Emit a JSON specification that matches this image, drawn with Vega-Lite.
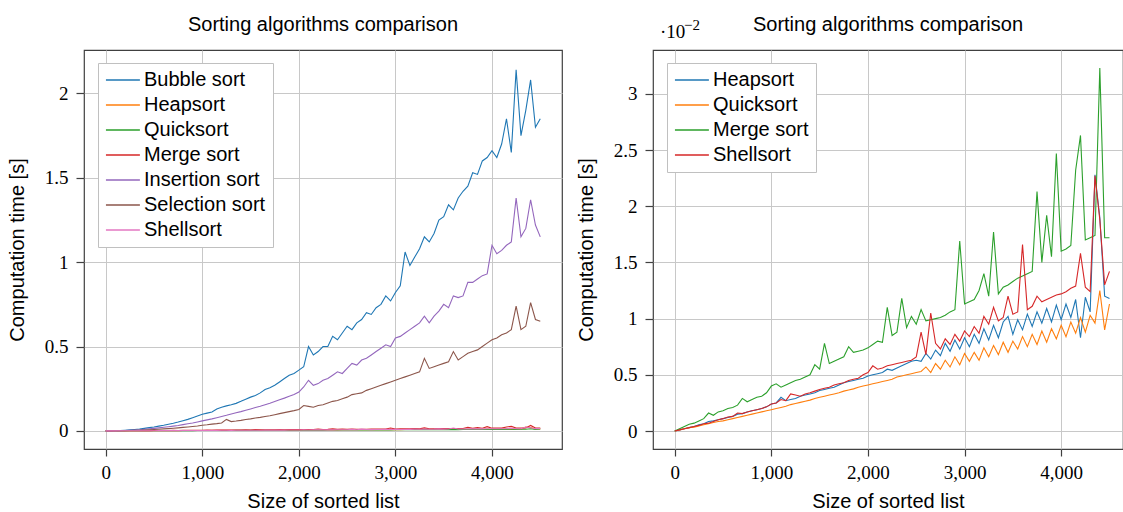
{
"$schema": "https://vega.github.io/schema/vega-lite/v6.json",
"padding": {"left": 6, "top": 14, "right": 0, "bottom": 0},
"bounds": "flush",
"spacing": 91,
"datasets": {"t": [
{"n":0,"Bubble sort":0,"Heapsort":0,"Quicksort":0,"Merge sort":0,"Insertion sort":0,"Selection sort":0,"Shellsort":0},
{"n":50,"Bubble sort":0.0002,"Heapsort":0.0001,"Quicksort":0.0001,"Merge sort":0.0002,"Insertion sort":0.0001,"Selection sort":0.0001,"Shellsort":0.0001},
{"n":100,"Bubble sort":0.0009,"Heapsort":0.0002,"Quicksort":0.0002,"Merge sort":0.0004,"Insertion sort":0.0006,"Selection sort":0.0003,"Shellsort":0.0002},
{"n":150,"Bubble sort":0.002,"Heapsort":0.0003,"Quicksort":0.0003,"Merge sort":0.0006,"Insertion sort":0.0013,"Selection sort":0.0007,"Shellsort":0.0003},
{"n":200,"Bubble sort":0.0036,"Heapsort":0.0004,"Quicksort":0.00035,"Merge sort":0.0007,"Insertion sort":0.0023,"Selection sort":0.0013,"Shellsort":0.0004},
{"n":250,"Bubble sort":0.0057,"Heapsort":0.00055,"Quicksort":0.00045,"Merge sort":0.0009,"Insertion sort":0.0036,"Selection sort":0.002,"Shellsort":0.0005},
{"n":300,"Bubble sort":0.0083,"Heapsort":0.00065,"Quicksort":0.00055,"Merge sort":0.0011,"Insertion sort":0.0052,"Selection sort":0.0029,"Shellsort":0.00065},
{"n":350,"Bubble sort":0.011,"Heapsort":0.00085,"Quicksort":0.00065,"Merge sort":0.0016,"Insertion sort":0.007,"Selection sort":0.0039,"Shellsort":0.0007},
{"n":400,"Bubble sort":0.015,"Heapsort":0.0009,"Quicksort":0.00075,"Merge sort":0.0014,"Insertion sort":0.0093,"Selection sort":0.0051,"Shellsort":0.00085},
{"n":450,"Bubble sort":0.019,"Heapsort":0.001,"Quicksort":0.00085,"Merge sort":0.0017,"Insertion sort":0.012,"Selection sort":0.0065,"Shellsort":0.001},
{"n":500,"Bubble sort":0.023,"Heapsort":0.0011,"Quicksort":0.0009,"Merge sort":0.0018,"Insertion sort":0.0145,"Selection sort":0.008,"Shellsort":0.0011},
{"n":550,"Bubble sort":0.028,"Heapsort":0.0012,"Quicksort":0.001,"Merge sort":0.002,"Insertion sort":0.0175,"Selection sort":0.0097,"Shellsort":0.00125},
{"n":600,"Bubble sort":0.033,"Heapsort":0.0013,"Quicksort":0.0011,"Merge sort":0.0021,"Insertion sort":0.021,"Selection sort":0.0115,"Shellsort":0.0013},
{"n":650,"Bubble sort":0.039,"Heapsort":0.0015,"Quicksort":0.0012,"Merge sort":0.0023,"Insertion sort":0.0245,"Selection sort":0.0135,"Shellsort":0.0016},
{"n":700,"Bubble sort":0.045,"Heapsort":0.00155,"Quicksort":0.0013,"Merge sort":0.0029,"Insertion sort":0.028,"Selection sort":0.0157,"Shellsort":0.00155},
{"n":750,"Bubble sort":0.052,"Heapsort":0.0017,"Quicksort":0.0014,"Merge sort":0.0026,"Insertion sort":0.032,"Selection sort":0.018,"Shellsort":0.0017},
{"n":800,"Bubble sort":0.06,"Heapsort":0.0018,"Quicksort":0.0015,"Merge sort":0.0028,"Insertion sort":0.037,"Selection sort":0.0205,"Shellsort":0.0018},
{"n":850,"Bubble sort":0.068,"Heapsort":0.0019,"Quicksort":0.0016,"Merge sort":0.003,"Insertion sort":0.042,"Selection sort":0.023,"Shellsort":0.0019},
{"n":900,"Bubble sort":0.078,"Heapsort":0.002,"Quicksort":0.0017,"Merge sort":0.0031,"Insertion sort":0.047,"Selection sort":0.026,"Shellsort":0.002},
{"n":950,"Bubble sort":0.088,"Heapsort":0.00215,"Quicksort":0.0018,"Merge sort":0.0034,"Insertion sort":0.053,"Selection sort":0.029,"Shellsort":0.00215},
{"n":1000,"Bubble sort":0.098,"Heapsort":0.0024,"Quicksort":0.0019,"Merge sort":0.004,"Insertion sort":0.059,"Selection sort":0.033,"Shellsort":0.0024},
{"n":1050,"Bubble sort":0.105,"Heapsort":0.0025,"Quicksort":0.002,"Merge sort":0.0042,"Insertion sort":0.065,"Selection sort":0.036,"Shellsort":0.0025},
{"n":1100,"Bubble sort":0.112,"Heapsort":0.003,"Quicksort":0.0021,"Merge sort":0.0039,"Insertion sort":0.071,"Selection sort":0.04,"Shellsort":0.0028},
{"n":1150,"Bubble sort":0.13,"Heapsort":0.0027,"Quicksort":0.0022,"Merge sort":0.0041,"Insertion sort":0.078,"Selection sort":0.043,"Shellsort":0.0027},
{"n":1200,"Bubble sort":0.14,"Heapsort":0.0028,"Quicksort":0.00235,"Merge sort":0.0043,"Insertion sort":0.085,"Selection sort":0.047,"Shellsort":0.0033},
{"n":1250,"Bubble sort":0.148,"Heapsort":0.0029,"Quicksort":0.00245,"Merge sort":0.0045,"Insertion sort":0.092,"Selection sort":0.068,"Shellsort":0.0032},
{"n":1300,"Bubble sort":0.155,"Heapsort":0.0031,"Quicksort":0.00255,"Merge sort":0.0046,"Insertion sort":0.1,"Selection sort":0.055,"Shellsort":0.0031},
{"n":1350,"Bubble sort":0.163,"Heapsort":0.0032,"Quicksort":0.00265,"Merge sort":0.0048,"Insertion sort":0.107,"Selection sort":0.058,"Shellsort":0.0033},
{"n":1400,"Bubble sort":0.175,"Heapsort":0.0033,"Quicksort":0.00275,"Merge sort":0.005,"Insertion sort":0.114,"Selection sort":0.062,"Shellsort":0.0034},
{"n":1450,"Bubble sort":0.188,"Heapsort":0.0034,"Quicksort":0.0029,"Merge sort":0.0059,"Insertion sort":0.122,"Selection sort":0.067,"Shellsort":0.00355},
{"n":1500,"Bubble sort":0.2,"Heapsort":0.0036,"Quicksort":0.003,"Merge sort":0.0055,"Insertion sort":0.13,"Selection sort":0.071,"Shellsort":0.0037},
{"n":1550,"Bubble sort":0.21,"Heapsort":0.0037,"Quicksort":0.0031,"Merge sort":0.0078,"Insertion sort":0.138,"Selection sort":0.076,"Shellsort":0.0038},
{"n":1600,"Bubble sort":0.225,"Heapsort":0.0038,"Quicksort":0.0032,"Merge sort":0.006,"Insertion sort":0.146,"Selection sort":0.08,"Shellsort":0.0039},
{"n":1650,"Bubble sort":0.245,"Heapsort":0.0039,"Quicksort":0.0033,"Merge sort":0.0062,"Insertion sort":0.155,"Selection sort":0.085,"Shellsort":0.0041},
{"n":1700,"Bubble sort":0.255,"Heapsort":0.0041,"Quicksort":0.0034,"Merge sort":0.0064,"Insertion sort":0.164,"Selection sort":0.09,"Shellsort":0.0042},
{"n":1750,"Bubble sort":0.27,"Heapsort":0.0043,"Quicksort":0.00355,"Merge sort":0.0066,"Insertion sort":0.174,"Selection sort":0.096,"Shellsort":0.0043},
{"n":1800,"Bubble sort":0.29,"Heapsort":0.0044,"Quicksort":0.00365,"Merge sort":0.0075,"Insertion sort":0.184,"Selection sort":0.102,"Shellsort":0.0045},
{"n":1850,"Bubble sort":0.31,"Heapsort":0.0045,"Quicksort":0.00375,"Merge sort":0.007,"Insertion sort":0.194,"Selection sort":0.108,"Shellsort":0.0046},
{"n":1900,"Bubble sort":0.33,"Heapsort":0.0046,"Quicksort":0.0039,"Merge sort":0.0071,"Insertion sort":0.205,"Selection sort":0.114,"Shellsort":0.0047},
{"n":1950,"Bubble sort":0.34,"Heapsort":0.0047,"Quicksort":0.004,"Merge sort":0.0072,"Insertion sort":0.216,"Selection sort":0.12,"Shellsort":0.005},
{"n":2000,"Bubble sort":0.36,"Heapsort":0.0049,"Quicksort":0.0041,"Merge sort":0.0074,"Insertion sort":0.23,"Selection sort":0.127,"Shellsort":0.0052},
{"n":2050,"Bubble sort":0.38,"Heapsort":0.005,"Quicksort":0.0042,"Merge sort":0.0077,"Insertion sort":0.26,"Selection sort":0.15,"Shellsort":0.0058},
{"n":2100,"Bubble sort":0.5,"Heapsort":0.0051,"Quicksort":0.0043,"Merge sort":0.008,"Insertion sort":0.3,"Selection sort":0.145,"Shellsort":0.0055},
{"n":2150,"Bubble sort":0.45,"Heapsort":0.0052,"Quicksort":0.0044,"Merge sort":0.0079,"Insertion sort":0.27,"Selection sort":0.14,"Shellsort":0.0056},
{"n":2200,"Bubble sort":0.47,"Heapsort":0.0055,"Quicksort":0.0045,"Merge sort":0.011,"Insertion sort":0.28,"Selection sort":0.15,"Shellsort":0.0058},
{"n":2250,"Bubble sort":0.5,"Heapsort":0.0054,"Quicksort":0.0046,"Merge sort":0.0085,"Insertion sort":0.3,"Selection sort":0.155,"Shellsort":0.0059},
{"n":2300,"Bubble sort":0.5,"Heapsort":0.0056,"Quicksort":0.0048,"Merge sort":0.0088,"Insertion sort":0.31,"Selection sort":0.165,"Shellsort":0.006},
{"n":2350,"Bubble sort":0.56,"Heapsort":0.0058,"Quicksort":0.0049,"Merge sort":0.0118,"Insertion sort":0.33,"Selection sort":0.175,"Shellsort":0.0061},
{"n":2400,"Bubble sort":0.54,"Heapsort":0.006,"Quicksort":0.005,"Merge sort":0.0092,"Insertion sort":0.35,"Selection sort":0.18,"Shellsort":0.0062},
{"n":2450,"Bubble sort":0.58,"Heapsort":0.0062,"Quicksort":0.0051,"Merge sort":0.0102,"Insertion sort":0.34,"Selection sort":0.19,"Shellsort":0.0063},
{"n":2500,"Bubble sort":0.62,"Heapsort":0.0063,"Quicksort":0.0052,"Merge sort":0.0095,"Insertion sort":0.37,"Selection sort":0.2,"Shellsort":0.0066},
{"n":2550,"Bubble sort":0.6,"Heapsort":0.0062,"Quicksort":0.0053,"Merge sort":0.0108,"Insertion sort":0.4,"Selection sort":0.215,"Shellsort":0.0088},
{"n":2600,"Bubble sort":0.64,"Heapsort":0.0069,"Quicksort":0.0057,"Merge sort":0.0098,"Insertion sort":0.39,"Selection sort":0.22,"Shellsort":0.0068},
{"n":2650,"Bubble sort":0.66,"Heapsort":0.0064,"Quicksort":0.0052,"Merge sort":0.0099,"Insertion sort":0.42,"Selection sort":0.225,"Shellsort":0.0105},
{"n":2700,"Bubble sort":0.7,"Heapsort":0.0072,"Quicksort":0.006,"Merge sort":0.01,"Insertion sort":0.43,"Selection sort":0.24,"Shellsort":0.0078},
{"n":2750,"Bubble sort":0.69,"Heapsort":0.0067,"Quicksort":0.0055,"Merge sort":0.0101,"Insertion sort":0.45,"Selection sort":0.25,"Shellsort":0.0073},
{"n":2800,"Bubble sort":0.73,"Heapsort":0.0078,"Quicksort":0.0063,"Merge sort":0.0103,"Insertion sort":0.47,"Selection sort":0.26,"Shellsort":0.0082},
{"n":2850,"Bubble sort":0.75,"Heapsort":0.0071,"Quicksort":0.0057,"Merge sort":0.0106,"Insertion sort":0.49,"Selection sort":0.27,"Shellsort":0.0077},
{"n":2900,"Bubble sort":0.8,"Heapsort":0.0081,"Quicksort":0.0066,"Merge sort":0.0108,"Insertion sort":0.51,"Selection sort":0.28,"Shellsort":0.0086},
{"n":2950,"Bubble sort":0.77,"Heapsort":0.0073,"Quicksort":0.0059,"Merge sort":0.0169,"Insertion sort":0.5,"Selection sort":0.29,"Shellsort":0.008},
{"n":3000,"Bubble sort":0.82,"Heapsort":0.0083,"Quicksort":0.0069,"Merge sort":0.0113,"Insertion sort":0.55,"Selection sort":0.3,"Shellsort":0.0089},
{"n":3050,"Bubble sort":0.86,"Heapsort":0.0075,"Quicksort":0.0062,"Merge sort":0.0115,"Insertion sort":0.56,"Selection sort":0.31,"Shellsort":0.0084},
{"n":3100,"Bubble sort":1.06,"Heapsort":0.0086,"Quicksort":0.007,"Merge sort":0.0117,"Insertion sort":0.58,"Selection sort":0.32,"Shellsort":0.0093},
{"n":3150,"Bubble sort":0.98,"Heapsort":0.0078,"Quicksort":0.0063,"Merge sort":0.0125,"Insertion sort":0.6,"Selection sort":0.33,"Shellsort":0.0087},
{"n":3200,"Bubble sort":1.03,"Heapsort":0.0091,"Quicksort":0.0074,"Merge sort":0.014,"Insertion sort":0.62,"Selection sort":0.34,"Shellsort":0.0102},
{"n":3250,"Bubble sort":1.08,"Heapsort":0.0081,"Quicksort":0.0066,"Merge sort":0.012,"Insertion sort":0.64,"Selection sort":0.35,"Shellsort":0.0095},
{"n":3300,"Bubble sort":1.15,"Heapsort":0.0094,"Quicksort":0.0076,"Merge sort":0.0177,"Insertion sort":0.68,"Selection sort":0.43,"Shellsort":0.011},
{"n":3350,"Bubble sort":1.12,"Heapsort":0.0083,"Quicksort":0.0068,"Merge sort":0.0122,"Insertion sort":0.64,"Selection sort":0.37,"Shellsort":0.0098},
{"n":3400,"Bubble sort":1.17,"Heapsort":0.0097,"Quicksort":0.0079,"Merge sort":0.0128,"Insertion sort":0.68,"Selection sort":0.38,"Shellsort":0.0101},
{"n":3450,"Bubble sort":1.25,"Heapsort":0.0102,"Quicksort":0.007,"Merge sort":0.013,"Insertion sort":0.71,"Selection sort":0.39,"Shellsort":0.012},
{"n":3500,"Bubble sort":1.27,"Heapsort":0.0086,"Quicksort":0.008,"Merge sort":0.0133,"Insertion sort":0.75,"Selection sort":0.4,"Shellsort":0.0104},
{"n":3550,"Bubble sort":1.34,"Heapsort":0.0099,"Quicksort":0.0073,"Merge sort":0.0136,"Insertion sort":0.73,"Selection sort":0.41,"Shellsort":0.0106},
{"n":3600,"Bubble sort":1.31,"Heapsort":0.009,"Quicksort":0.0084,"Merge sort":0.0138,"Insertion sort":0.8,"Selection sort":0.47,"Shellsort":0.0166},
{"n":3650,"Bubble sort":1.38,"Heapsort":0.0104,"Quicksort":0.0075,"Merge sort":0.014,"Insertion sort":0.79,"Selection sort":0.42,"Shellsort":0.0108},
{"n":3700,"Bubble sort":1.42,"Heapsort":0.0093,"Quicksort":0.0086,"Merge sort":0.0142,"Insertion sort":0.8,"Selection sort":0.44,"Shellsort":0.0111},
{"n":3750,"Bubble sort":1.45,"Heapsort":0.0106,"Quicksort":0.0077,"Merge sort":0.0213,"Insertion sort":0.88,"Selection sort":0.46,"Shellsort":0.012},
{"n":3800,"Bubble sort":1.53,"Heapsort":0.0096,"Quicksort":0.0089,"Merge sort":0.015,"Insertion sort":0.88,"Selection sort":0.47,"Shellsort":0.0115},
{"n":3850,"Bubble sort":1.52,"Heapsort":0.0109,"Quicksort":0.0079,"Merge sort":0.0192,"Insertion sort":0.9,"Selection sort":0.48,"Shellsort":0.0117},
{"n":3900,"Bubble sort":1.6,"Heapsort":0.0097,"Quicksort":0.0091,"Merge sort":0.0155,"Insertion sort":0.92,"Selection sort":0.5,"Shellsort":0.0119},
{"n":3950,"Bubble sort":1.62,"Heapsort":0.0112,"Quicksort":0.0082,"Merge sort":0.0247,"Insertion sort":0.93,"Selection sort":0.52,"Shellsort":0.0121},
{"n":4000,"Bubble sort":1.66,"Heapsort":0.0099,"Quicksort":0.0094,"Merge sort":0.016,"Insertion sort":1.1,"Selection sort":0.54,"Shellsort":0.0122},
{"n":4050,"Bubble sort":1.62,"Heapsort":0.0113,"Quicksort":0.0084,"Merge sort":0.0162,"Insertion sort":1.05,"Selection sort":0.55,"Shellsort":0.0124},
{"n":4100,"Bubble sort":1.7,"Heapsort":0.0101,"Quicksort":0.0097,"Merge sort":0.0165,"Insertion sort":1.07,"Selection sort":0.57,"Shellsort":0.0127},
{"n":4150,"Bubble sort":1.85,"Heapsort":0.0117,"Quicksort":0.0087,"Merge sort":0.0232,"Insertion sort":1.1,"Selection sort":0.58,"Shellsort":0.0129},
{"n":4200,"Bubble sort":1.65,"Heapsort":0.0083,"Quicksort":0.0101,"Merge sort":0.0263,"Insertion sort":1.12,"Selection sort":0.6,"Shellsort":0.0158},
{"n":4250,"Bubble sort":2.14,"Heapsort":0.0119,"Quicksort":0.0088,"Merge sort":0.017,"Insertion sort":1.38,"Selection sort":0.74,"Shellsort":0.0128},
{"n":4300,"Bubble sort":1.75,"Heapsort":0.0106,"Quicksort":0.0103,"Merge sort":0.0172,"Insertion sort":1.15,"Selection sort":0.6,"Shellsort":0.0124},
{"n":4350,"Bubble sort":1.9,"Heapsort":0.0228,"Quicksort":0.0096,"Merge sort":0.0174,"Insertion sort":1.2,"Selection sort":0.62,"Shellsort":0.0227},
{"n":4400,"Bubble sort":2.08,"Heapsort":0.019,"Quicksort":0.0125,"Merge sort":0.0323,"Insertion sort":1.37,"Selection sort":0.76,"Shellsort":0.0188},
{"n":4450,"Bubble sort":1.8,"Heapsort":0.012,"Quicksort":0.009,"Merge sort":0.0172,"Insertion sort":1.22,"Selection sort":0.66,"Shellsort":0.013},
{"n":4500,"Bubble sort":1.85,"Heapsort":0.0118,"Quicksort":0.0113,"Merge sort":0.0172,"Insertion sort":1.15,"Selection sort":0.65,"Shellsort":0.0142}
]},
"hconcat": [
{
"width": 478, "height": 399,
"title": {"text": "Sorting algorithms comparison", "offset": 15},
"data": {"name": "t"},
"transform": [{"fold": ["Bubble sort","Heapsort","Quicksort","Merge sort","Insertion sort","Selection sort","Shellsort"], "as": ["algo","time"]}],
"mark": {"type": "line", "strokeWidth": 1.1, "clip": true},
"encoding": {
"x": {"field": "n", "type": "quantitative", "scale": {"domain": [-225, 4725], "nice": false, "zero": false}, "axis": {"values": [0,1000,2000,3000,4000], "format": ",.0f", "title": "Size of sorted list"}},
"y": {"field": "time", "type": "quantitative", "scale": {"domain": [-0.1075, 2.2575], "nice": false, "zero": false}, "axis": {"values": [0,0.5,1,1.5,2], "format": ".1~f", "title": "Computation time [s]"}},
"color": {"field": "algo", "type": "nominal", "sort": null,
"scale": {"domain": ["Bubble sort","Heapsort","Quicksort","Merge sort","Insertion sort","Selection sort","Shellsort"], "range": ["#1f77b4","#ff7f0e","#2ca02c","#d62728","#9467bd","#8c564b","#e377c2"]},
"legend": {"title": null, "orient": "none", "legendX": 14, "legendY": 13}}
}
},
{
"width": 470, "height": 399,
"title": {"text": "Sorting algorithms comparison", "offset": -17},
"layer": [
{
"data": {"name": "t"},
"transform": [{"fold": ["Heapsort","Quicksort","Merge sort","Shellsort"], "as": ["algo","time"]}],
"mark": {"type": "line", "strokeWidth": 1.1, "clip": true},
"encoding": {
"x": {"field": "n", "type": "quantitative", "scale": {"domain": [-225, 4640], "nice": false, "zero": false}, "axis": {"values": [0,1000,2000,3000,4000], "format": ",.0f", "title": "Size of sorted list"}},
"y": {"field": "time", "type": "quantitative", "scale": {"domain": [-0.0016, 0.0339], "nice": false, "zero": false}, "axis": {"values": [0,0.005,0.01,0.015,0.02,0.025,0.03], "labelExpr": "format(datum.value*100, '.2~g')", "title": "Computation time [s]"}},
"color": {"field": "algo", "type": "nominal", "sort": null,
"scale": {"domain": ["Heapsort","Quicksort","Merge sort","Shellsort"], "range": ["#1f77b4","#ff7f0e","#2ca02c","#d62728"]},
"legend": {"title": null, "orient": "none", "legendX": 14, "legendY": 13}}
}
},
{
"data": {"values": [{"s": "·10"}]},
"mark": {"type": "text", "font": "Liberation Serif", "fontSize": 19, "align": "left", "baseline": "alphabetic", "dx": 7, "dy": -12, "color": "#000"},
"encoding": {"x": {"datum": -225}, "y": {"datum": 0.0339}, "text": {"field": "s"}}
},
{
"data": {"values": [{"s": "−2"}]},
"mark": {"type": "text", "font": "Liberation Serif", "fontSize": 15, "align": "left", "baseline": "alphabetic", "dx": 31, "dy": -20, "color": "#000"},
"encoding": {"x": {"datum": -225}, "y": {"datum": 0.0339}, "text": {"field": "s"}}
}
]
}
],
"resolve": {"scale": {"x": "independent", "y": "independent", "color": "independent"}, "legend": {"color": "independent"}},
"config": {
"font": "Liberation Sans",
"background": "#ffffff",
"view": {"stroke": "#404040", "strokeWidth": 1.2},
"axis": {"labelFont": "Liberation Serif", "labelFontSize": 19, "labelColor": "#000", "titleFont": "Liberation Sans", "titleFontSize": 20, "titleFontWeight": "normal", "titleColor": "#000", "gridColor": "#c8c8c8", "gridWidth": 1, "domain": false, "tickColor": "#404040", "tickSize": 7, "tickWidth": 1.2, "labelPadding": 7},
"axisY": {"titlePadding": 17, "labelPadding": 8, "tickSize": 8},
"axisX": {"titlePadding": 9},
"title": {"fontSize": 20, "fontWeight": "normal", "font": "Liberation Sans", "color": "#000", "baseline": "alphabetic", "frame": "group"},
"legend": {"labelFont": "Liberation Sans", "labelFontSize": 20, "labelColor": "#000", "strokeColor": "#c0c0c0", "fillColor": "#ffffff", "padding": 7, "rowPadding": 5, "symbolType": "M-1.6,0H4.4", "symbolSize": 128, "symbolStrokeWidth": 2, "symbolOpacity": 0.75, "labelOffset": 19, "cornerRadius": 0}
}
}
